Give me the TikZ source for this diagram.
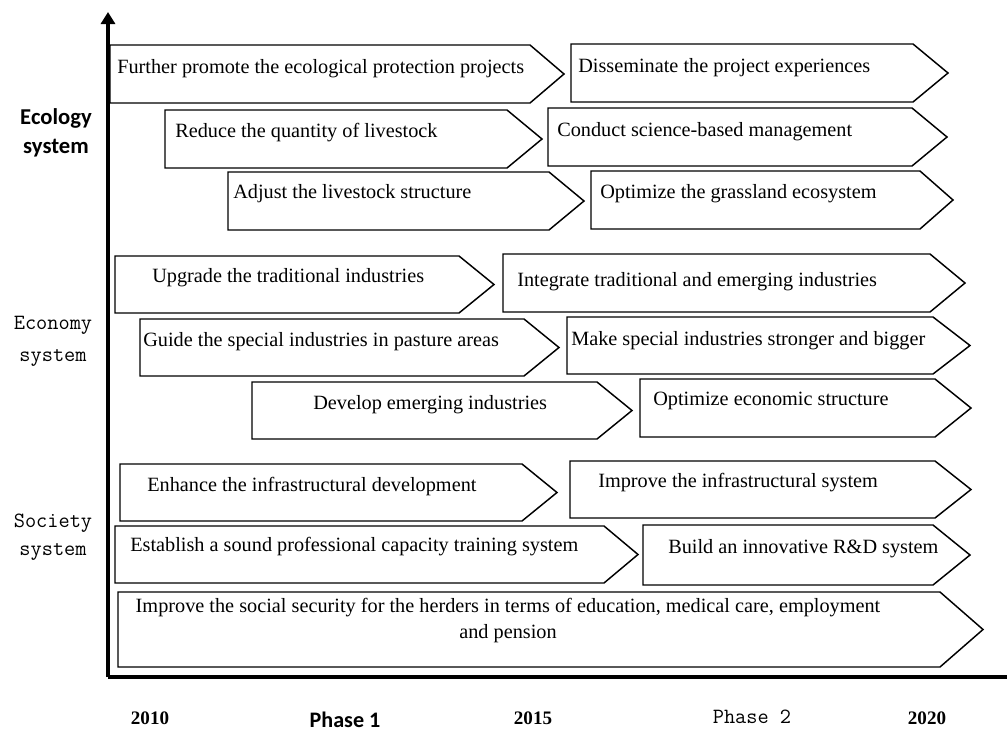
\documentclass[tikz,border=0pt]{standalone}
\usepackage{fontspec}
\setmainfont{Liberation Serif}
\newfontfamily\calfont{Carlito}
\usetikzlibrary{arrows.meta}
\tikzset{
  stage/.style={draw=black, line width=1.1pt, line join=miter, fill=white},
  btxt/.style={anchor=base west, inner sep=0pt, font=\fontsize{15.2}{19.5}\selectfont},
  axisline/.style={line width=2.4pt},
  eco/.style={align=center, inner sep=0pt, font=\calfont\bfseries\fontsize{17}{22}\selectfont},
  mono/.style={align=center, inner sep=0pt, font=\ttfamily\fontsize{16.3}{24}\selectfont},
  year/.style={inner sep=0pt, font=\bfseries\fontsize{14.3}{16}\selectfont},
}
\newcommand\stagearrow[5]{\draw[stage] (#1,#2) -- (#4,#2) -- (#5,{(#2+#3)/2}) -- (#4,#3) -- (#1,#3) -- cycle;}
\begin{document}
\begin{tikzpicture}[x=0.75pt,y=-0.75pt]
\useasboundingbox (0,0) rectangle (1007,732);
% axes
\coordinate (origin) at (108,677);
\coordinate (ytop) at (108,12);
\coordinate (xend) at (1007,677);
\draw[axisline,-{Triangle[length=9pt,width=10.5pt]}] (origin) -- (ytop);
\draw[axisline] (origin) -- (xend);
% ecology
\stagearrow{110}{45}{103}{530}{564}
\node[btxt] (e1) at (117,73) {Further promote the ecological protection projects};
\stagearrow{571}{44}{102}{913}{948}
\node[btxt] (e2) at (578,72) {Disseminate the project experiences};
\stagearrow{165}{110}{168}{507}{542}
\node[btxt] (e3) at (175,137) {Reduce the quantity of livestock};
\stagearrow{548}{108}{166}{912}{947}
\node[btxt] (e4) at (557,136) {Conduct science-based management};
\stagearrow{228}{172}{230}{549}{584}
\node[btxt] (e5) at (233,198) {Adjust the livestock structure};
\stagearrow{591}{171}{229}{920}{953}
\node[btxt] (e6) at (600,198) {Optimize the grassland ecosystem};
% economy
\stagearrow{115}{256}{313}{459}{494}
\node[btxt] (c1) at (152,282) {Upgrade the traditional industries};
\stagearrow{503}{254}{312}{930}{965}
\node[btxt] (c2) at (517,286) {Integrate traditional and emerging industries};
\stagearrow{140}{319}{376}{524}{559}
\node[btxt] (c3) at (143,346) {Guide the special industries in pasture areas};
\stagearrow{567}{317}{374}{933}{970}
\node[btxt] (c4) at (571,345) {Make special industries stronger and bigger};
\stagearrow{252}{382}{439}{597}{632}
\node[btxt] (c5) at (313,409) {Develop emerging industries};
\stagearrow{640}{379}{437}{935}{971}
\node[btxt] (c6) at (653,405) {Optimize economic structure};
% society
\stagearrow{120}{464}{521}{522}{557}
\node[btxt] (s1) at (147,491) {Enhance the infrastructural development};
\stagearrow{570}{461}{518}{935}{971}
\node[btxt] (s2) at (598,487) {Improve the infrastructural system};
\stagearrow{115}{526}{583}{604}{638}
\node[btxt] (s3) at (130,551) {Establish a sound professional capacity training system};
\stagearrow{643}{525}{585}{933}{970}
\node[btxt] (s4) at (668,553) {Build an innovative R\&D system};
\stagearrow{118}{592}{667}{940}{983}
\node[inner sep=0pt, align=center, anchor=north, font=\fontsize{15.2}{19.5}\selectfont] (s5) at (508,598)
  {Improve the social security for the herders in terms of education, medical care, employment\\and pension};
% system labels
\node[eco] (ecosys) at (56,133) {Ecology\\system};
\node[mono] (econsys) at (53,341) {Economy\\system};
\node[mono, font=\ttfamily\fontsize{16.3}{21}\selectfont] (socsys) at (53,537) {Society\\system};
% time labels
\node[year] (y2010) at (150,718) {2010};
\node[inner sep=0pt, font=\calfont\bfseries\fontsize{16.6}{20}\selectfont] (ph1) at (345,720) {Phase 1};
\node[year] (y2015) at (533,718) {2015};
\node[inner sep=0pt, font=\ttfamily\fontsize{16.3}{20}\selectfont] (ph2) at (752,717) {Phase 2};
\node[year] (y2020) at (927,718) {2020};
\end{tikzpicture}
\end{document}
